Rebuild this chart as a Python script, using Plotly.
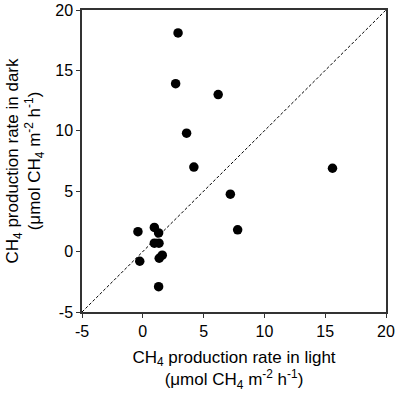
import plotly.graph_objects as go

light = [2.9, 2.7, 6.2, 3.6, 4.2, 15.6, 7.2, 7.8, -0.4, 0.95, 1.3, 0.95, 1.33, -0.25, 1.6, 1.35, 1.3]
dark = [18.1, 13.9, 13.0, 9.8, 7.0, 6.9, 4.75, 1.8, 1.65, 2.0, 1.55, 0.7, 0.7, -0.8, -0.3, -0.55, -2.9]
line_xy = [-5, 20]
ticks = [-5, 0, 5, 10, 15, 20]

fig = go.Figure()
fig.add_trace(go.Scatter(x=line_xy, y=line_xy, mode="lines",
                         line=dict(color="black", width=1, dash="3px,2px"),
                         showlegend=False, hoverinfo="skip"))
fig.add_trace(go.Scatter(x=light, y=dark, mode="markers",
                         marker=dict(color="black", size=9.5),
                         showlegend=False))

axis_common = dict(range=[-5, 20], tickvals=ticks, ticktext=[str(t) for t in ticks],
                   showgrid=False, zeroline=False, showline=True, linecolor="#333",
                   linewidth=1.5, mirror=True, ticks="outside", ticklen=4, tickcolor="#333",
                   automargin=False,
                   tickfont=dict(size=16, color="black", family="Liberation Sans, Arial"))

fig.update_layout(
    width=397, height=395,
    margin=dict(l=82, r=11, t=10, b=83),
    paper_bgcolor="white", plot_bgcolor="white",
    font=dict(family="Liberation Sans, Arial", color="black"),
    xaxis=dict(**axis_common,
               title=dict(text="CH<sub>4</sub> production rate in light<br>(μmol CH<sub>4</sub> m<sup>-2</sup> h<sup>-1</sup>)",
                          font=dict(size=17), standoff=12)),
    yaxis=dict(**axis_common,
               title=dict(text="CH<sub>4</sub> production rate in dark<br>(μmol CH<sub>4</sub> m<sup>-2</sup> h<sup>-1</sup>)",
                          font=dict(size=17), standoff=10)),
)
fig.write_html("out.html", config={"displayModeBar": False},
               post_script="document.body.style.margin='0';")
